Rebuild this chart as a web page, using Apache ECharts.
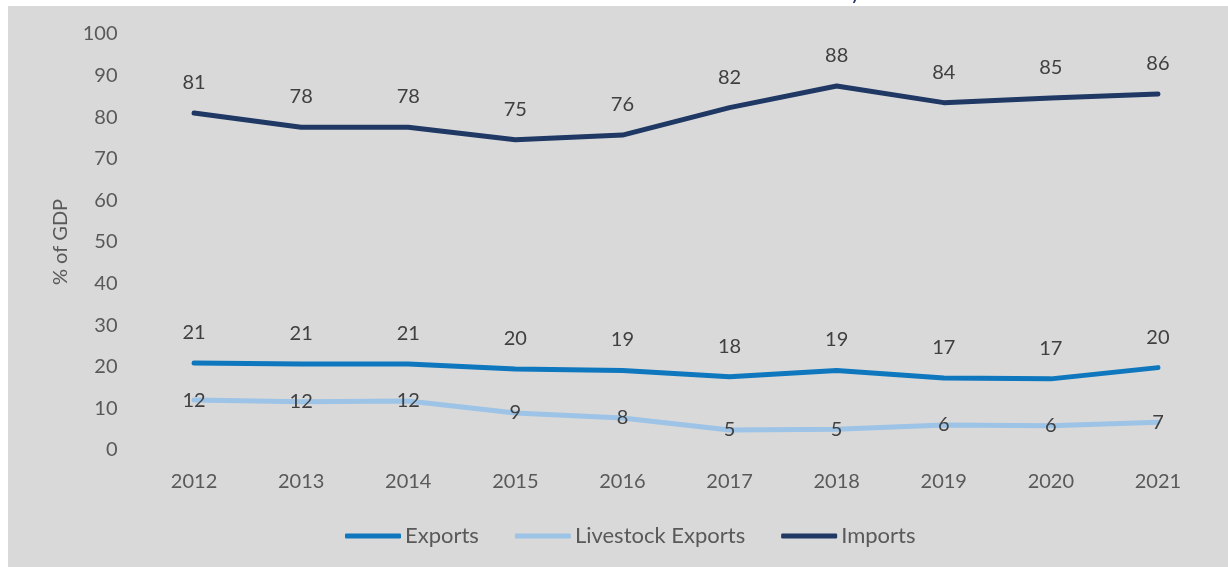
<!DOCTYPE html>
<html>
<head>
<meta charset="utf-8">
<script src="https://cdn.jsdelivr.net/npm/echarts@6/dist/echarts.min.js"></script>
<style>
  html, body { margin: 0; padding: 0; background: #ffffff; }
  #main { width: 1228px; height: 567px; }
</style>
</head>
<body>
<div id="main"></div>
<script>
// data
const years = ['2012', '2013', '2014', '2015', '2016', '2017', '2018', '2019', '2020', '2021'];
const exportsData = [20.9, 20.7, 20.7, 19.5, 19.1, 17.6, 19.1, 17.3, 17.1, 19.8];
const livestockData = [12.0, 11.6, 11.8, 8.9, 7.7, 4.8, 5.0, 6.0, 5.8, 6.7];
const importsData = [81.0, 77.6, 77.6, 74.6, 75.7, 82.3, 87.5, 83.5, 84.6, 85.6];

const font = 'Lato, "Open Sans", sans-serif';
const roundLabel = p => Math.round(p.value);

const chart = echarts.init(document.getElementById('main'));

const lineSeries = (name, data, color, labelPos, dist) => ({
  name: name,
  type: 'line',
  data: data,
  symbol: 'circle',
  symbolSize: 1,
  showSymbol: true,
  lineStyle: { color: color, width: 5, cap: 'round', join: 'round' },
  itemStyle: { color: color },
  label: {
    show: true,
    position: labelPos,
    distance: dist,
    formatter: roundLabel,
    color: '#404040',
    fontFamily: font,
    fontSize: 20
  },
  emphasis: { disabled: true },
  animation: false
});

chart.setOption({
  backgroundColor: '#ffffff',
  animation: false,
  graphic: [
    { type: 'rect', z: -10, shape: { x: 8, y: 6, width: 1220, height: 561 }, style: { fill: '#d9d9d9' } },
    { type: 'text', left: 850, top: -19, style: { text: 'y', font: '22px ' + font, fill: '#1f3864' } }
  ],
  grid: { left: 140.5, right: 16.5, top: 34, bottom: 117 },
  legend: {
    bottom: 15,
    left: 340,
    itemWidth: 56,
    itemHeight: 5,
    itemGap: 36,
    icon: 'roundRect',
    textStyle: { color: '#595959', fontFamily: font, fontSize: 22, padding: [0, 0, 0, -1] },
    data: ['Exports', 'Livestock Exports', 'Imports']
  },
  xAxis: {
    type: 'category',
    data: years,
    boundaryGap: true,
    axisLine: { show: false },
    axisTick: { show: false },
    axisLabel: { color: '#595959', fontFamily: font, fontSize: 20, margin: 22 }
  },
  yAxis: {
    type: 'value',
    min: 0,
    max: 100,
    interval: 10,
    name: '% of GDP',
    nameLocation: 'middle',
    nameGap: 70,
    nameTextStyle: { color: '#595959', fontFamily: font, fontSize: 20 },
    splitLine: { show: false },
    axisLine: { show: false },
    axisTick: { show: false },
    axisLabel: { color: '#595959', fontFamily: font, fontSize: 20, margin: 23 }
  },
  series: [
    lineSeries('Exports', exportsData, '#0f77bd', 'top', 20),
    lineSeries('Livestock Exports', livestockData, '#9dc3e6', 'inside', 0),
    lineSeries('Imports', importsData, '#1f3864', 'top', 20)
  ]
});
</script>
</body>
</html>
